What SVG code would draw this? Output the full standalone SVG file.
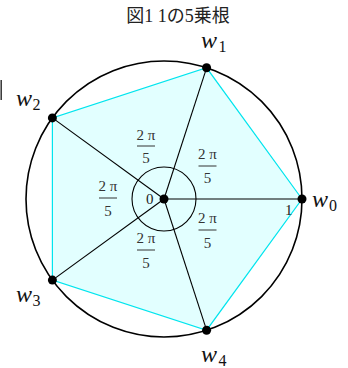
<svg xmlns="http://www.w3.org/2000/svg" width="348" height="368" viewBox="0 0 348 368">
<style>
.t{font-family:"Liberation Serif","Noto Sans CJK JP",serif;fill:#222}
.w{font-family:"Liberation Serif",serif;font-style:italic;font-size:24px;fill:#111}
.s{font-family:"Liberation Serif",serif;font-size:16px;fill:#111}
.f{font-family:"Liberation Serif",serif;font-size:15px;fill:#333;text-anchor:middle}
.bar{stroke:#333;stroke-width:1}
.sp{stroke:#000;stroke-width:1.1;fill:none}
</style>
<rect width="348" height="368" fill="#fff"/>
<text class="t" x="178" y="22" font-size="18" text-anchor="middle">図1 1の5乗根</text>
<line x1="1.2" y1="80" x2="1.2" y2="100" stroke="#333" stroke-width="1.5"/>
<g id="pentagon">
<polygon points="302,199 206.6,67.8 52.4,117.9 52.4,280.1 206.6,330.2" fill="#e2ffff" stroke="#00e5ee" stroke-width="1.2"/>
</g>
<g id="circle">
<circle cx="164" cy="199" r="138" fill="none" stroke="#000" stroke-width="1.6"/>
</g>
<g id="connectors">
<line class="sp" x1="164" y1="199" x2="302" y2="199"/>
<line class="sp" x1="164" y1="199" x2="206.6" y2="67.8"/>
<line class="sp" x1="164" y1="199" x2="52.4" y2="117.9"/>
<line class="sp" x1="164" y1="199" x2="52.4" y2="280.1"/>
<line class="sp" x1="164" y1="199" x2="206.6" y2="330.2"/>
<circle class="sp" cx="164" cy="199" r="32" stroke-width="1.2"/>
</g>
<g id="origin">
<circle cx="164" cy="199" r="4.5" fill="#000"/>
<text class="t" x="146" y="204" font-size="15">0</text>
</g>
<g id="w0">
<circle cx="302" cy="199" r="4.5" fill="#000"/>
<text class="t" x="285" y="215" font-size="15">1</text>
<text class="w" x="312" y="207">w</text><text class="s" x="329" y="211">0</text>
</g>
<g id="w1">
<circle cx="206.6" cy="67.8" r="4.5" fill="#000"/>
<text class="w" x="201" y="48">w</text><text class="s" x="218.5" y="52">1</text>
</g>
<g id="w2">
<circle cx="52.4" cy="117.9" r="4.5" fill="#000"/>
<text class="w" x="16" y="106">w</text><text class="s" x="32.5" y="110">2</text>
</g>
<g id="w3">
<circle cx="52.4" cy="280.1" r="4.5" fill="#000"/>
<text class="w" x="16" y="302">w</text><text class="s" x="32.5" y="306">3</text>
</g>
<g id="w4">
<circle cx="206.6" cy="330.2" r="4.5" fill="#000"/>
<text class="w" x="201" y="362">w</text><text class="s" x="218.5" y="366">4</text>
</g>
<g id="angle1">
<text class="f" x="146" y="140">2 π</text><line class="bar" x1="137" y1="146" x2="155" y2="146"/><text class="f" x="146" y="163">5</text>
</g>
<g id="angle2">
<text class="f" x="207.5" y="159">2 π</text><line class="bar" x1="198.5" y1="166" x2="216.5" y2="166"/><text class="f" x="207.5" y="183">5</text>
</g>
<g id="angle3">
<text class="f" x="108" y="191">2 π</text><line class="bar" x1="99" y1="198" x2="117" y2="198"/><text class="f" x="108" y="216">5</text>
</g>
<g id="angle4">
<text class="f" x="207.5" y="223">2 π</text><line class="bar" x1="198.5" y1="230" x2="216.5" y2="230"/><text class="f" x="207.5" y="248">5</text>
</g>
<g id="angle5">
<text class="f" x="146" y="243">2 π</text><line class="bar" x1="137" y1="250" x2="155" y2="250"/><text class="f" x="146" y="268">5</text>
</g>
</svg>
